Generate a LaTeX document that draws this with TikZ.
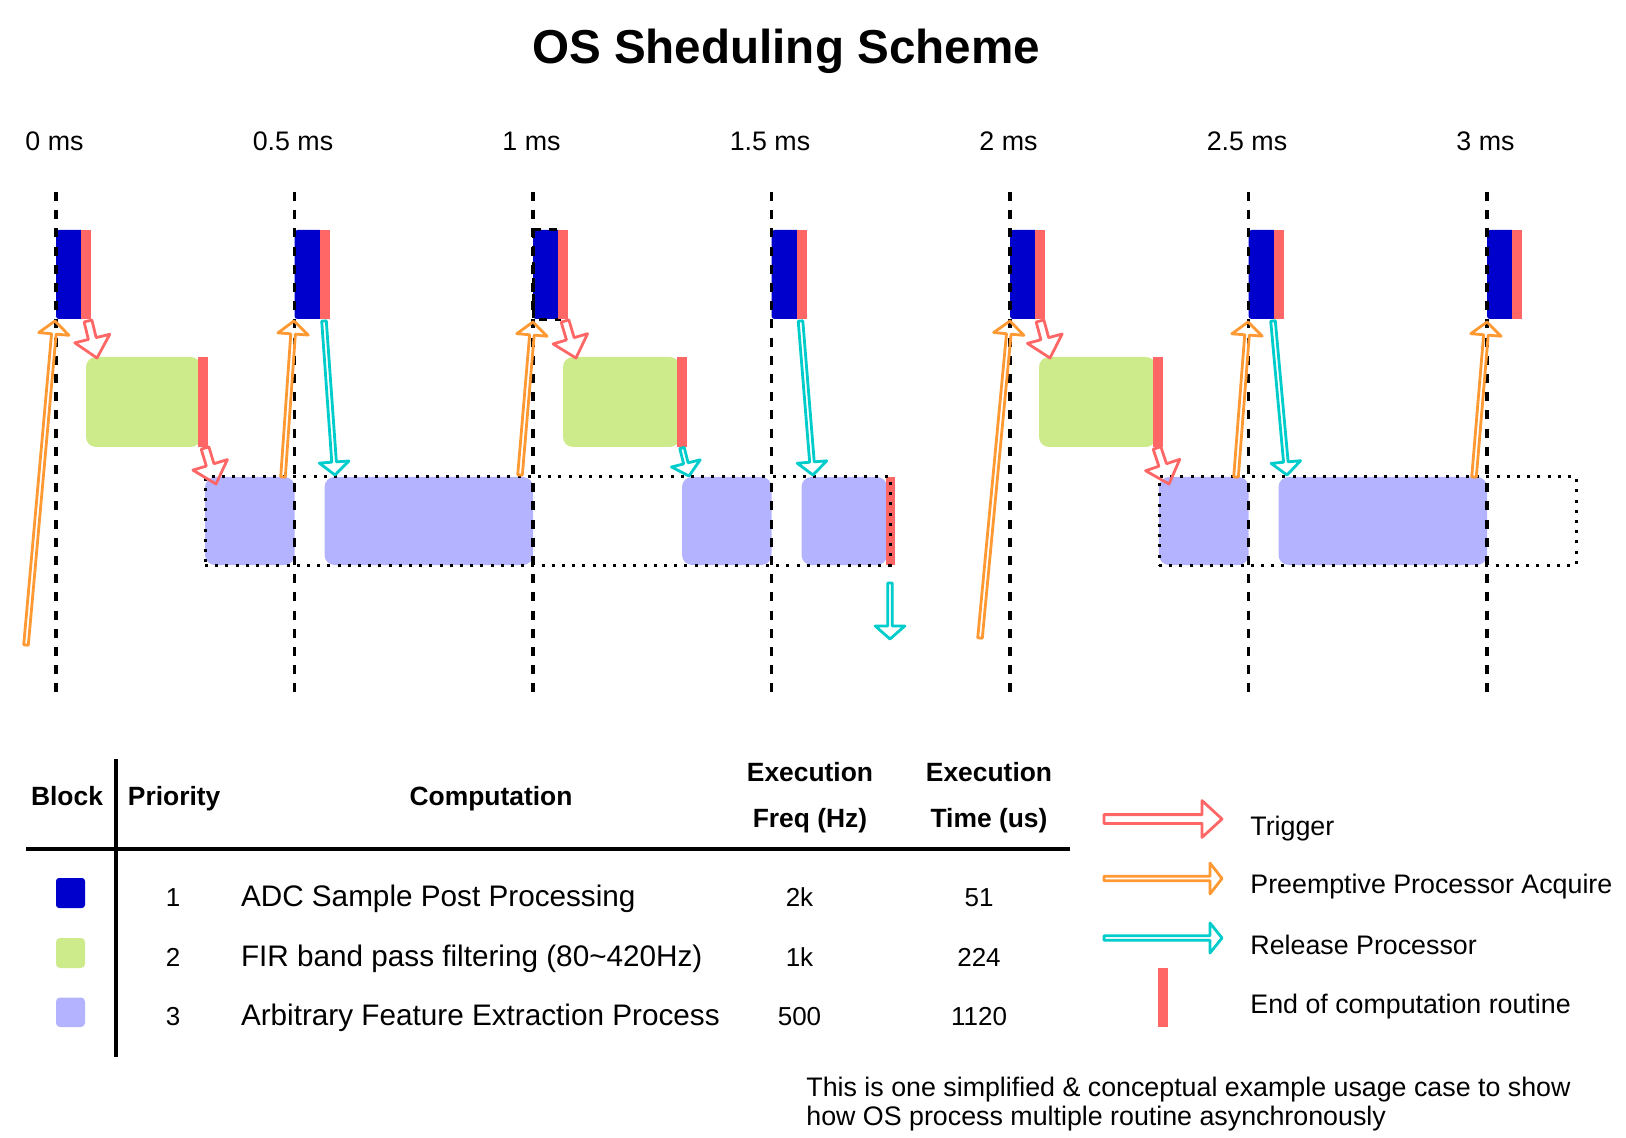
\documentclass[tikz,border=0pt]{standalone}
\usepackage{fontspec}
\setmainfont{Liberation Sans}
\usetikzlibrary{calc,fit}
\definecolor{cblue}{HTML}{0000CC}
\definecolor{cred}{HTML}{FF6666}
\definecolor{cgreen}{HTML}{CDEB8B}
\definecolor{cpurple}{HTML}{B3B3FF}
\definecolor{corange}{HTML}{FF9933}
\definecolor{ccyan}{HTML}{00CCCC}
% hollow block arrow: style, from, to, shaft half width, head half width, head length
\newcommand\hollowarrow[6]{%
  \coordinate (hb) at ($(#3)!#6!(#2)$);
  \draw[#1] ($(#2)!#4!90:(#3)$) -- ($(hb)!#4!-90:(#2)$) -- ($(hb)!#5!-90:(#2)$) -- (#3)
    -- ($(hb)!#5!90:(#2)$) -- ($(hb)!#4!90:(#2)$) -- ($(#2)!#4!-90:(#3)$) -- cycle;}
\begin{document}
\begin{tikzpicture}[x=0.5pt,y=-0.5pt,
  txt/.style={inner sep=0pt, font=\fontsize{13.4}{16}\selectfont},
  rowtxt/.style={inner sep=0pt, font=\fontsize{14.85}{17}\selectfont},
  numtxt/.style={inner sep=0pt, font=\fontsize{13}{16}\selectfont},
  hdr/.style={inner sep=0pt, font=\fontsize{13.2}{16}\selectfont\bfseries},
  pblk/.style={inner sep=0pt, outer sep=0pt, fill=cpurple, rounded corners=5pt},
  gblk/.style={inner sep=0pt, outer sep=0pt, fill=cgreen, rounded corners=5pt},
  bblk/.style={inner sep=0pt, outer sep=0pt, fill=cblue, rounded corners=1.5pt},
  rbar/.style={inner sep=0pt, outer sep=0pt, fill=cred},
  dotbox/.style={inner sep=0pt, outer sep=0pt, draw=black, line width=1.5pt, dash pattern=on 1.5pt off 3.6pt},
  vdash/.style={draw=black, line width=1.8pt, dash pattern=on 4.5pt off 4.6pt},
  trig/.style={draw=cred, line width=1.4pt, line join=round},
  acq/.style={draw=corange, line width=1.4pt, line join=round},
  rel/.style={draw=ccyan, line width=1.4pt, line join=round},
  rule/.style={draw=black, line width=1.6pt}]
\useasboundingbox (0,0) rectangle (1626,1138);

% title
\node[inner sep=0pt, font=\fontsize{23.8}{28}\selectfont\bfseries, anchor=base] (title) at (786,64) {OS Sheduling Scheme};

% time labels
\foreach \i/\t in {0/0 ms,1/0.5 ms,2/1 ms,3/1.5 ms,4/2 ms,5/2.5 ms,6/3 ms}{
  \pgfmathsetmacro\xa{54.5+238.5*\i}
  \node[txt, anchor=base] (tl\i) at (\xa,151) {\t};
}

% purple blocks (priority 3)
\foreach \n/\a/\b in {1/205/294.5, 2/324.5/533, 3/682/771.5, 4/801.5/887, 5/1159/1248.5, 6/1278.5/1487}
  \node[pblk, fit={(\a,477) (\b,565)}] (p\n) {};
\node[rbar, fit={(886,477) (895,565)}] (pr1) {};

% green blocks (priority 2)
\foreach \n/\a/\b in {1/86/198, 2/563/677, 3/1039/1153}{
  \pgfmathsetmacro\bb{\b+3}
  \pgfmathsetmacro\bc{\b+9.5}
  \node[gblk, fit={(\a,357) (\bb,447)}] (g\n) {};
  \node[rbar, fit={(\b,357) (\bc,447)}] (gr\n) {};
}

% blue blocks (priority 1)
\coordinate (selA) at (533,230);
\coordinate (selB) at (559,320);
\foreach \i in {0,...,6}{
  \pgfmathsetmacro\xa{56+238.5*\i}
  \pgfmathsetmacro\xb{\xa+25}
  \pgfmathsetmacro\xd{\xa+28}
  \pgfmathsetmacro\xc{\xa+35}
  \node[bblk, fit={(\xa,230) (\xd,319)}] (b\i) {};
  \ifnum\i=2 \draw[black, line width=1.5pt, dash pattern=on 4pt off 4pt] (selA) rectangle (selB);\fi
  \node[rbar, fit={(\xb,230) (\xc,319)}] (br\i) {};
}

% dotted process frames
\node[dotbox, fit={(205,477) (890,565)}] (frame1) {};
\node[dotbox, fit={(1159,477) (1576,565)}] (frame2) {};

% dashed time lines
\foreach \i in {0,...,6}{
  \pgfmathsetmacro\xa{56+238.5*\i}
  \coordinate (vt\i) at (\xa,192);
  \coordinate (vb\i) at (\xa,700);
  \draw[vdash] (vt\i) -- (vb\i);
}

% trigger arrows
\foreach \n/\ax/\ay/\bx/\by in {1/88/321/97/358, 2/205/448/216/484, 3/565/321/576/358, 4/1040/321/1050/358, 5/1157/448/1169/484}{
  \coordinate (T\n a) at (\ax,\ay);
  \coordinate (T\n b) at (\bx,\by);
  \hollowarrow{trig}{T\n a}{T\n b}{2pt}{9pt}{10pt}
}
% preemptive acquire arrows
\foreach \n/\ax/\ay/\bx/\by in {1/26/645/55/321, 2/283/477/294/321, 3/520/475/533/322, 4/980/638/1010/321, 5/1236/477/1248/322, 6/1474/477/1487/322}{
  \coordinate (O\n a) at (\ax,\ay);
  \coordinate (O\n b) at (\bx,\by);
  \hollowarrow{acq}{O\n a}{O\n b}{1.15pt}{7.6pt}{6.5pt}
}
% release arrows
\foreach \n/\ax/\ay/\bx/\by in {1/324/321/335/475, 2/682/448/689/476, 3/800.5/321/813/475, 4/890/583/890/639, 5/1273/321/1287/475}{
  \coordinate (C\n a) at (\ax,\ay);
  \coordinate (C\n b) at (\bx,\by);
  \hollowarrow{rel}{C\n a}{C\n b}{1.15pt}{7.4pt}{6.5pt}
}

% table
\coordinate (vl1) at (116,759);
\coordinate (vl2) at (116,1057);
\coordinate (hl1) at (26,849);
\coordinate (hl2) at (1070,849);
\draw[rule] (vl1) -- (vl2);
\draw[rule] (hl1) -- (hl2);

\node[hdr, anchor=base] (hBlock) at (67,805.7) {Block};
\node[hdr, anchor=base west] (hPrio) at (127.5,805.7) {Priority};
\node[hdr, anchor=base] (hComp) at (491,805.7) {Computation};
\node[hdr, anchor=base] (hF1) at (810,781.7) {Execution};
\node[hdr, anchor=base] (hF2) at (810,827.3) {Freq (Hz)};
\node[hdr, anchor=base] (hT1) at (989,781.7) {Execution};
\node[hdr, anchor=base] (hT2) at (989,827.3) {Time (us)};

\node[bblk, fit={(56,878) (85,908)}] (sq1) {};
\node[gblk, rounded corners=2pt, fit={(56,938) (85,968)}] (sq2) {};
\node[pblk, rounded corners=2pt, fit={(56,997.5) (85,1027)}] (sq3) {};

\foreach \n/\y/\comp/\f/\tm in {1/906.7/ADC Sample Post Processing/2k/51,
    2/966.7/FIR band pass filtering (80\textasciitilde 420Hz)/1k/224,
    3/1025.7/Arbitrary Feature Extraction Process/500/1120}{
  \node[numtxt, anchor=base] (pr\n) at (173,\y) {\n};
  \node[rowtxt, anchor=base west] (cp\n) at (240.6,\y) {\comp};
  \node[numtxt, anchor=base] (fq\n) at (799.5,\y) {\f};
  \node[numtxt, anchor=base] (tm\n) at (979,\y) {\tm};
}

% legend
\coordinate (L1a) at (1104,819);   \coordinate (L1b) at (1222,819);
\coordinate (L2a) at (1104,878.5); \coordinate (L2b) at (1222,878.5);
\coordinate (L3a) at (1104,938);   \coordinate (L3b) at (1222,938);
\hollowarrow{trig}{L1a}{L1b}{2.2pt}{9.2pt}{10pt}
\hollowarrow{acq}{L2a}{L2b}{1.15pt}{7.7pt}{6pt}
\hollowarrow{rel}{L3a}{L3b}{1.15pt}{7.5pt}{6pt}
\node[rbar, fit={(1158,967.5) (1168,1027)}] (lbar) {};
\node[txt, anchor=base west] (lg1) at (1250,835) {Trigger};
\node[txt, anchor=base west] (lg2) at (1250,893.3) {Preemptive Processor Acquire};
\node[txt, anchor=base west] (lg3) at (1250,954) {Release Processor};
\node[txt, anchor=base west] (lg4) at (1250,1013.3) {End of computation routine};

% footnote
\node[inner sep=0pt, font=\fontsize{13.4}{15}\selectfont, anchor=base west] (fn1) at (806,1096.7) {This is one simplified \& conceptual example usage case to show};
\node[inner sep=0pt, font=\fontsize{13.4}{15}\selectfont, anchor=base west] (fn2) at (806,1125) {how OS process multiple routine asynchronously};
\end{tikzpicture}
\end{document}
